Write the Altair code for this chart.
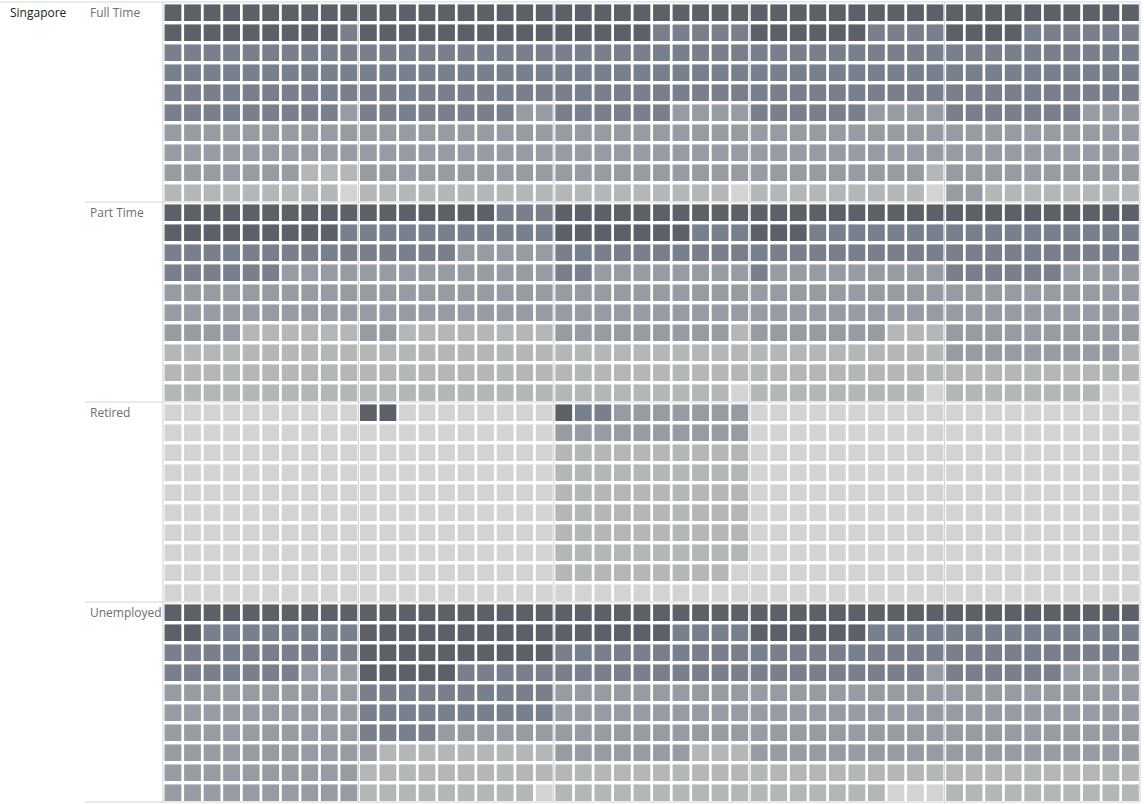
import altair as alt
import pandas as pd

groups = ["Full Time", "Part Time", "Retired", "Unemployed"]
country = "Singapore"

# level per cell (0 = lightest ... 4 = darkest); each string = one row of 50 cells (5 panels x 10)
full_time = [
    "4444444444" "4444444444" "4444444444" "4444444444" "4444444444",
    "4444444443" "4444444444" "4444433333" "4444443333" "4444333333",
    "3333333333" "3333333333" "3333333333" "3333333333" "3333333333",
    "3333333333" "3333333333" "3333333333" "3333333333" "3333333333",
    "3333333333" "3333333333" "3333333333" "3333333333" "3333333333",
    "3333333332" "3333333322" "3333332222" "3333332222" "3333333222",
    "2222222222" "2222222222" "2222222222" "2222222222" "2222222222",
    "2222222222" "2222222222" "2222222222" "2222222222" "2222222222",
    "2222222111" "2222222222" "2222222222" "2222222221" "2222222222",
    "1111111110" "1111111111" "1111111110" "1111111110" "2211111111",
]
part_time = [
    "4444444444" "4444444333" "4444444444" "4444444444" "4444444444",
    "4444444443" "3333333333" "4444444333" "4443333333" "3333333333",
    "3333333333" "3333322222" "3333333333" "3333333333" "3333333333",
    "3333332222" "2222222222" "3322222222" "3222222222" "3333332222",
    "2222222222" "2222222222" "2222222222" "2222222222" "2222222222",
    "2222222222" "2222222222" "2222222222" "2222222222" "2222222222",
    "2222111111" "2211111111" "2222222221" "2222222111" "2222222222",
    "1111111111" "1111111111" "1111111111" "1111111111" "2222222221",
    "1111111111" "1111111111" "1111111111" "1111111111" "1111111111",
    "1111111111" "1111111111" "1111111110" "1111111110" "1111111100",
]
retired = [
    "0000000000" "4400000000" "4332222222" "0000000000" "0000000000",
    "0000000000" "0000000000" "2222222222" "0000000000" "0000000000",
    "0000000000" "0000000000" "1111111111" "0000000000" "0000000000",
    "0000000000" "0000000000" "1111111111" "0000000000" "0000000000",
    "0000000000" "0000000000" "1111111111" "0000000000" "0000000000",
    "0000000000" "0000000000" "1111111111" "0000000000" "0000000000",
    "0000000000" "0000000000" "1111111111" "0000000000" "0000000000",
    "0000000000" "0000000000" "1111111111" "0000000000" "0000000000",
    "0000000000" "0000000000" "1111111110" "0000000000" "0000000000",
    "0000000000" "0000000000" "0000000000" "0000000000" "0000000000",
]
unemployed = [
    "4444444444" "4444444444" "4444444444" "4444444444" "4444444444",
    "4433333333" "4444444444" "4444443333" "4444443333" "3333333333",
    "3333333333" "4444444444" "3333333333" "3333333333" "3333333333",
    "3333333222" "4444433333" "3333333333" "3333333332" "3333332222",
    "2222222222" "3333333333" "2222222222" "2222222222" "2222222222",
    "2222222222" "3333333333" "2222222222" "2222222222" "2222222222",
    "2222222222" "3333222222" "2222222222" "2222222222" "2222222222",
    "2222222222" "2111111111" "2222222111" "2222222222" "2222222222",
    "2222222222" "1111111111" "1111111111" "1111111111" "1111111111",
    "2222222222" "1111111110" "1111111111" "1111111000" "1111111111",
]

levels = [0, 1, 2, 3, 4]
level_colors = ["#d3d3d3", "#b3b7b8", "#979ca4", "#77808c", "#5b6069"]

panel_edges = [0, 10, 20, 30, 40, 50]
group_edges = [10, 20, 30]

rows = []
for gi, block in enumerate([full_time, part_time, retired, unemployed]):
    for ri, line in enumerate(block):
        for ci, ch in enumerate(line):
            r = gi * 10 + ri
            rows.append({"group": groups[gi], "col": ci, "row": r, "level": int(ch),
                         "x1": ci + 0.08, "x2": ci + 0.94, "y1": r + 0.12, "y2": r + 0.95})
df = pd.DataFrame(rows)

W, H = 977, 800
xs = alt.Scale(domain=[0, 50], nice=False, zero=False)
ys = alt.Scale(domain=[0, 40], nice=False, zero=False, reverse=True)

cells = alt.Chart(df).mark_rect().encode(
    x=alt.X("x1:Q", scale=xs, axis=None),
    x2="x2:Q",
    y=alt.Y("y1:Q", scale=ys, axis=None),
    y2="y2:Q",
    color=alt.Color("level:O", scale=alt.Scale(domain=levels, range=level_colors), legend=None),
)

vlines = alt.Chart(pd.DataFrame({"c": panel_edges})).mark_rule(color="#cfcfcf", strokeWidth=1).encode(
    x=alt.X("c:Q", scale=xs, axis=None),
    y=alt.value(0),
    y2=alt.value(H),
)

hlines = alt.Chart(pd.DataFrame({"r": group_edges + [40]})).mark_rule(color="#d4d4d4", strokeWidth=1).encode(
    y=alt.Y("r:Q", scale=ys, axis=None),
    x=alt.value(-78),
    x2=alt.value(W),
)

topline = alt.Chart(pd.DataFrame({"r": [0]})).mark_rule(color="#d4d4d4", strokeWidth=1).encode(
    y=alt.Y("r:Q", scale=ys, axis=None),
    x=alt.value(-163),
    x2=alt.value(W),
)

glabels = alt.Chart(pd.DataFrame({"g": groups, "r": [gi * 10 + 0.55 for gi in range(4)]})).mark_text(
    align="left", baseline="middle", font="Open Sans", fontSize=12, color="#6e6e6e"
).encode(
    x=alt.value(-73),
    y=alt.Y("r:Q", scale=ys, axis=None),
    text="g:N",
)

clabel = alt.Chart(pd.DataFrame({"g": [country], "r": [0.55]})).mark_text(
    align="left", baseline="middle", font="Open Sans", fontSize=12, color="#222222"
).encode(
    x=alt.value(-153),
    y=alt.Y("r:Q", scale=ys, axis=None),
    text="g:N",
)

chart = alt.layer(cells, vlines, hlines, topline, glabels, clabel).properties(
    width=W, height=H, autosize="none",
    padding={"left": 163, "top": 2, "right": 4, "bottom": 2},
    background="white",
).configure_view(strokeWidth=0)

chart.save("out.html", embed_options={"renderer": "svg", "actions": False})
